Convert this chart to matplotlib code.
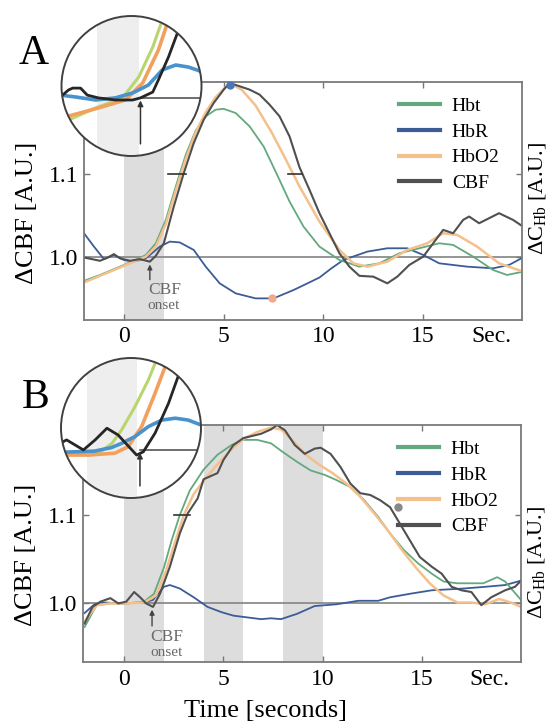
import matplotlib.pyplot as plt
from matplotlib.lines import Line2D
from matplotlib.patches import Circle

plt.rcParams['font.family'] = ['Liberation Serif', 'DejaVu Serif']
plt.rcParams['mathtext.fontset'] = 'custom'
plt.rcParams['mathtext.rm'] = 'Liberation Serif'

names = ['Hbt', 'HbR', 'HbO2', 'CBF']
colors = {'Hbt': '#62a97f', 'HbR': '#3c5c98', 'HbO2': '#f4c08c', 'CBF': '#505050'}
inset_colors = {'Hbt': '#b9d66e', 'HbR': '#4a92cc', 'HbO2': '#f2a05e', 'CBF': '#262626'}

# ---- panel A (single 2 s stimulus) ----
cbfA_t = [-2.0, -1.6, -1.2, -0.8, -0.5, -0.2, 0.3, 0.8, 1.3, 1.6, 2.0, 2.5, 3.0, 3.5, 4.0,
          4.5, 5.0, 5.3, 5.8, 6.3, 6.8, 7.3, 7.8, 8.3, 8.8, 9.3, 9.8, 10.3, 10.8, 11.3, 11.8,
          12.5, 13.2, 13.7, 14.3, 15.0, 15.5, 16.0, 16.5, 17.0, 17.3, 17.8, 18.3, 18.8, 19.5, 20.0]
cbfA_v = [1.000, 0.998, 0.996, 1.000, 1.004, 0.999, 0.996, 0.998, 0.995, 1.002, 1.017, 1.061,
          1.101, 1.137, 1.165, 1.185, 1.201, 1.209, 1.205, 1.201, 1.195, 1.183, 1.169, 1.145,
          1.108, 1.081, 1.053, 1.029, 1.005, 0.989, 0.978, 0.977, 0.969, 0.977, 0.991, 1.001,
          1.017, 1.033, 1.029, 1.045, 1.049, 1.041, 1.047, 1.053, 1.045, 1.037]
hbrA_t = [-2.0, -1.5, -1.0, -0.5, 0.0, 0.5, 1.1, 1.8, 2.3, 2.8, 3.5, 4.1, 4.8, 5.6, 6.6, 7.5,
          8.5, 9.2, 9.8, 10.4, 11.0, 12.2, 13.2, 14.2, 15.0, 15.8, 17.2, 18.5, 19.3, 20.0]
hbrA_v = [1.029, 1.013, 0.998, 1.003, 0.997, 0.995, 0.999, 1.013, 1.019, 1.018, 1.009, 0.989,
          0.969, 0.957, 0.951, 0.951, 0.961, 0.969, 0.976, 0.987, 0.997, 1.007, 1.011, 1.011,
          1.003, 0.993, 0.989, 0.987, 0.991, 1.000]
hbtA_t = [-2.0, -1.2, -0.2, 0.6, 1.1, 1.6, 2.1, 2.6, 3.1, 3.6, 4.1, 4.6, 5.0, 5.6, 6.3, 7.0,
          7.6, 8.3, 9.0, 9.8, 10.8, 11.8, 12.8, 13.8, 14.8, 15.8, 16.5, 17.5, 18.5, 19.2, 20.0]
hbtA_v = [0.972, 0.979, 0.989, 0.997, 1.003, 1.017, 1.045, 1.085, 1.123, 1.152, 1.169, 1.177,
          1.178, 1.173, 1.157, 1.133, 1.103, 1.067, 1.037, 1.013, 0.997, 0.989, 0.993, 1.005,
          1.011, 1.017, 1.015, 1.001, 0.985, 0.979, 0.983]
hbo2A_t = [-2.0, -1.2, -0.2, 0.6, 1.1, 1.6, 2.1, 2.6, 3.1, 3.6, 4.1, 4.6, 5.1, 5.5, 5.9, 6.6,
           7.4, 8.1, 8.8, 9.8, 10.8, 11.5, 12.2, 13.2, 14.2, 15.2, 16.0, 16.7, 17.7, 18.8, 20.0]
hbo2A_v = [0.970, 0.978, 0.988, 0.996, 1.001, 1.013, 1.040, 1.080, 1.118, 1.150, 1.174, 1.192,
           1.204, 1.206, 1.201, 1.182, 1.150, 1.118, 1.085, 1.043, 1.009, 0.993, 0.989, 0.995,
           1.009, 1.017, 1.029, 1.027, 1.013, 0.993, 0.983]

# ---- panel B (three stimuli) ----
cbfB_t = [-2.0, -1.6, -1.2, -0.7, -0.3, 0.1, 0.5, 0.8, 1.1, 1.45, 1.8, 2.3, 2.8, 3.2, 3.7, 4.0,
          4.7, 5.0, 5.5, 6.0, 6.9, 7.4, 7.7, 8.1, 8.6, 9.1, 9.6, 9.9, 10.4, 10.9, 11.4, 11.9,
          12.4, 12.9, 13.4, 13.9, 14.4, 14.9, 15.5, 16.0, 16.5, 17.0, 17.5, 18.0, 18.5, 19.2,
          19.7, 20.0]
cbfB_v = [0.976, 0.995, 1.001, 1.005, 0.999, 1.001, 1.012, 1.006, 0.999, 0.995, 1.010, 1.041,
          1.079, 1.102, 1.119, 1.141, 1.148, 1.163, 1.180, 1.188, 1.193, 1.198, 1.203, 1.197,
          1.180, 1.170, 1.176, 1.177, 1.170, 1.155, 1.136, 1.125, 1.123, 1.117, 1.109, 1.090,
          1.071, 1.052, 1.041, 1.033, 1.018, 1.014, 1.012, 0.997, 1.006, 1.014, 1.018, 1.025]
hbrB_t = [-2.0, -1.5, -1.0, 0.0, 1.0, 1.45, 2.0, 2.3, 2.8, 3.5, 4.2, 4.9, 5.5, 6.2, 6.9, 7.4,
          7.9, 8.7, 9.6, 10.7, 11.8, 12.8, 13.4, 14.4, 15.5, 17.1, 18.2, 19.2, 20.0]
hbrB_v = [0.988, 0.998, 1.000, 0.999, 1.000, 1.003, 1.018, 1.020, 1.016, 1.006, 0.995, 0.989,
          0.985, 0.983, 0.981, 0.982, 0.981, 0.987, 0.996, 0.998, 1.002, 1.002, 1.006, 1.010,
          1.014, 1.016, 1.018, 1.020, 1.025]
hbtB_t = [-2.0, -1.4, -0.7, 0.1, 1.0, 1.5, 2.0, 2.4, 2.8, 3.3, 4.0, 4.7, 5.4, 6.0, 6.7, 7.4,
          8.0, 8.7, 9.4, 10.1, 10.7, 11.4, 12.1, 12.8, 13.4, 14.1, 14.8, 15.5, 16.1, 16.8,
          18.1, 18.8, 19.2, 20.0]
hbtB_v = [0.972, 0.997, 0.999, 0.999, 1.001, 1.010, 1.040, 1.072, 1.100, 1.128, 1.152, 1.169,
          1.180, 1.186, 1.186, 1.182, 1.172, 1.161, 1.151, 1.146, 1.140, 1.132, 1.117, 1.098,
          1.079, 1.060, 1.045, 1.033, 1.024, 1.022, 1.022, 1.029, 1.024, 1.003]
hbo2B_t = [-2.0, -1.4, -0.7, 0.1, 1.0, 1.6, 2.1, 2.6, 3.0, 3.5, 4.1, 4.7, 5.4, 6.0, 6.7, 7.4,
           7.9, 8.5, 9.1, 9.8, 10.5, 11.2, 11.9, 12.6, 13.3, 14.0, 14.7, 15.4, 16.1, 16.8,
           17.5, 18.2, 18.9, 19.5, 20.0]
hbo2B_v = [0.978, 0.997, 0.999, 0.999, 1.000, 1.008, 1.036, 1.072, 1.100, 1.124, 1.142, 1.158,
           1.175, 1.187, 1.195, 1.200, 1.198, 1.185, 1.170, 1.158, 1.148, 1.136, 1.121, 1.102,
           1.082, 1.060, 1.040, 1.022, 1.008, 1.000, 1.000, 0.998, 1.004, 1.000, 0.995]

# ---- magnified onset views (circles) ----
insA_cbf_t = [-0.18, -0.075, 0.0, 0.14, 0.26, 0.46, 0.76, 1.07, 1.21, 1.43, 1.53, 1.71, 1.89, 2.01]
insA_cbf_v = [1.0011, 1.0033, 1.0041, 1.0041, 1.0011, 0.9999, 0.9990, 0.9990, 0.9999, 1.0024,
              1.0076, 1.0174, 1.0290, 1.0359]
insA_hbr_t = [-0.22, 0.05, 0.41, 0.76, 1.07, 1.35, 1.60, 1.84, 2.07, 2.32]
insA_hbr_v = [1.0011, 1.0003, 0.9990, 0.9999, 1.0020, 1.0054, 1.0119, 1.0140, 1.0131, 1.0110]
insA_hbt_t = [-0.2, -0.075, 0.41, 0.89, 1.18, 1.43, 1.60, 1.70]
insA_hbt_v = [0.9900, 0.9904, 0.9956, 0.9999, 1.0089, 1.0217, 1.0333, 1.0400]
insA_hbo2_t = [-0.2, 0.46, 0.94, 1.25, 1.53, 1.71, 1.80]
insA_hbo2_v = [0.9913, 0.9956, 0.9990, 1.0063, 1.0204, 1.0333, 1.0400]

insB_cbf_t = [-0.22, -0.10, 0.20, 0.41, 0.62, 0.82, 1.15, 1.27, 1.48, 1.72, 1.89, 1.98]
insB_cbf_v = [1.0028, 1.0043, 1.0000, 1.0043, 1.0093, 1.0064, 0.9978, 0.9992, 1.0072, 1.0200,
              1.0314, 1.0371]
insB_hbr_t = [-0.2, 0.4, 0.7, 0.88, 1.12, 1.36, 1.60, 1.84, 2.07, 2.30]
insB_hbr_v = [0.9990, 0.9995, 1.0010, 1.0028, 1.0057, 1.0100, 1.0128, 1.0136, 1.0128, 1.0107]
insB_hbt_t = [-0.2, 0.3, 0.47, 0.71, 0.88, 1.12, 1.36, 1.48]
insB_hbt_v = [0.9982, 0.9983, 0.9986, 1.0028, 1.0085, 1.0185, 1.0300, 1.0371]
insB_hbo2_t = [-0.19, 0.29, 0.76, 1.00, 1.24, 1.48, 1.66]
insB_hbo2_v = [0.9978, 0.9978, 0.9986, 1.0014, 1.0100, 1.0243, 1.0357]

panels = {
    'A': dict(curves={'Hbt': (hbtA_t, hbtA_v), 'HbR': (hbrA_t, hbrA_v),
                      'HbO2': (hbo2A_t, hbo2A_v), 'CBF': (cbfA_t, cbfA_v)},
              inset={'Hbt': (insA_hbt_t, insA_hbt_v), 'HbR': (insA_hbr_t, insA_hbr_v),
                     'HbO2': (insA_hbo2_t, insA_hbo2_v), 'CBF': (insA_cbf_t, insA_cbf_v)},
              stim=[(0, 2)], onset=(1.3, 0.995), halfmax=[(2.2, 3.1), (8.2, 8.9)],
              ylim=(0.9257, 1.2105), xlim=(-2.0, 19.95), inset_ylim=(0.975, 1.035),
              inset_band=(0.44, 1.18),
              rect=[84 / 553, 1 - 319.5 / 726, 438 / 553, 237.8 / 726],
              circle=[61.5 / 553, 1 - 156 / 726, 140 / 553, 140 / 726],
              dots=[(5.3, 1.207, '#4a78b8'), (7.4, 0.952, '#f2a98a')],
              legend_top=0.935,
              letter_xy=(34 / 553, 1 - 54 / 726), ylab_y=0.45, rlab_y=0.51),
    'B': dict(curves={'Hbt': (hbtB_t, hbtB_v), 'HbR': (hbrB_t, hbrB_v),
                      'HbO2': (hbo2B_t, hbo2B_v), 'CBF': (cbfB_t, cbfB_v)},
              inset={'Hbt': (insB_hbt_t, insB_hbt_v), 'HbR': (insB_hbr_t, insB_hbr_v),
                     'HbO2': (insB_hbo2_t, insB_hbo2_v), 'CBF': (insB_cbf_t, insB_cbf_v)},
              stim=[(0, 2), (4, 6), (8, 10)], onset=(1.4, 0.995), halfmax=[(2.5, 3.3)],
              ylim=(0.932, 1.203), xlim=(-2.08, 20.0), inset_ylim=(0.9794, 1.0394),
              inset_band=(0.26, 1.16),
              rect=[83 / 553, 1 - 662 / 726, 438 / 553, 237 / 726],
              circle=[61 / 553, 1 - 498 / 726, 140 / 553, 140 / 726],
              dots=[(13.8, 1.109, '#888888')],
              legend_top=0.935,
              letter_xy=(36 / 553, 1 - 398 / 726), ylab_y=0.45, rlab_y=0.42),
}
inset_xlim = (-0.2, 2.3)
inset_onset = 1.21
xticks = [0, 5, 10, 15]
sec_pos = 18.4

fig = plt.figure(figsize=(5.53, 7.26), dpi=100)

for key, p in panels.items():
    ax = fig.add_axes(p['rect'])
    for a, b in p['stim']:
        ax.axvspan(a, b, color='#dddddd', lw=0, zorder=0)
    ax.axhline(1.0, color='#8c8c8c', lw=1.3, zorder=1)
    for name, lw in [('HbR', 1.3), ('Hbt', 1.3), ('HbO2', 1.8), ('CBF', 1.5)]:
        t, v = p['curves'][name]
        ax.plot(t, v, color=colors[name], lw=lw, zorder=2)
    for a, b in p['halfmax']:
        ax.plot([a, b], [1.1, 1.1], color='#333333', lw=1.2, zorder=3)
    for x, y, c in p['dots']:
        ax.plot([x], [y], 'o', ms=5, color=c, zorder=4, clip_on=False)

    ox, oy = p['onset']
    ax.annotate('', xy=(ox, oy), xytext=(ox, oy - 0.025),
                arrowprops=dict(arrowstyle='-|>', color='#444444', lw=1.0, mutation_scale=7))
    ax.text(ox - 0.1, oy - 0.034, 'CBF', fontsize=12.5, color='#6a6a6a', ha='left', va='center')
    ax.text(ox - 0.1, oy - 0.052, 'onset', fontsize=11, color='#6a6a6a', ha='left', va='center')

    ax.set_xlim(p['xlim'])
    ax.set_ylim(p['ylim'])
    ax.set_xticks(xticks + [sec_pos])
    ax.set_xticklabels([str(x) for x in xticks] + ['Sec.'])
    ax.set_yticks([1.0, 1.1])
    ax.set_yticklabels(['1.0', '1.1'])
    ax.tick_params(direction='in', top=True, right=True, labelsize=17, length=4,
                   color='#777777', width=1.0)
    ax.tick_params(axis='x', pad=5)
    ax.tick_params(axis='y', pad=4)
    sec_tick = ax.xaxis.get_major_ticks()[-1]
    sec_tick.tick1line.set_visible(False)
    sec_tick.tick2line.set_visible(False)
    for s in ax.spines.values():
        s.set_color('#7a7a7a')
        s.set_linewidth(1.3)

    ax.set_ylabel('ΔCBF [A.U.]', fontsize=19)
    ax.yaxis.set_label_coords(-0.105, p['ylab_y'])
    ax.text(1.037, p['rlab_y'], r'ΔC$_{\mathrm{Hb}}$ [A.U.]', transform=ax.transAxes,
            rotation=90, fontsize=16, ha='center', va='center')

    handles = [Line2D([], [], color=colors[n], lw=3) for n in names]
    ax.legend(handles, names, loc='upper left', bbox_to_anchor=(0.72, p['legend_top']),
              frameon=False, fontsize=14, handlelength=2.1, handletextpad=0.6,
              labelspacing=0.42, borderaxespad=0, borderpad=0)

    fig.text(p['letter_xy'][0], p['letter_xy'][1], key, fontsize=30,
             ha='center', va='center')

    # magnified view of the onset
    ia = fig.add_axes(p['circle'])
    ia.axis('off')
    ia.set_xlim(inset_xlim)
    ia.set_ylim(p['inset_ylim'])
    disk = Circle((0.5, 0.5), 0.5, transform=ia.transAxes, facecolor='white',
                  edgecolor='none', zorder=0)
    ia.add_patch(disk)
    band = ia.axvspan(*p['inset_band'], color='#eeeeee', lw=0, zorder=1)
    band.set_clip_path(disk)
    base = ia.plot([inset_onset, inset_xlim[1]], [1.0, 1.0], color='#555555', lw=1.2, zorder=2)[0]
    base.set_clip_path(disk)
    ia.annotate('', xy=(inset_onset, 1.0), xytext=(inset_onset, p['inset_ylim'][0] + 0.004),
                arrowprops=dict(arrowstyle='-|>', color='#333333', lw=1.1, mutation_scale=8),
                zorder=5)
    for name, lw in [('Hbt', 2.2), ('HbO2', 2.6), ('HbR', 2.6), ('CBF', 2.0)]:
        t, v = p['inset'][name]
        ln = ia.plot(t, v, color=inset_colors[name], lw=lw, zorder=3)[0]
        ln.set_clip_path(disk)
    rim = Circle((0.5, 0.5), 0.5, transform=ia.transAxes, fill=False,
                 edgecolor='#404040', lw=1.4, zorder=6, clip_on=False)
    ia.add_patch(rim)

fig.text(265 / 553, 1 - 711 / 726, 'Time [seconds]', fontsize=19, ha='center', va='center')

fig.savefig('out.png', dpi=100)
